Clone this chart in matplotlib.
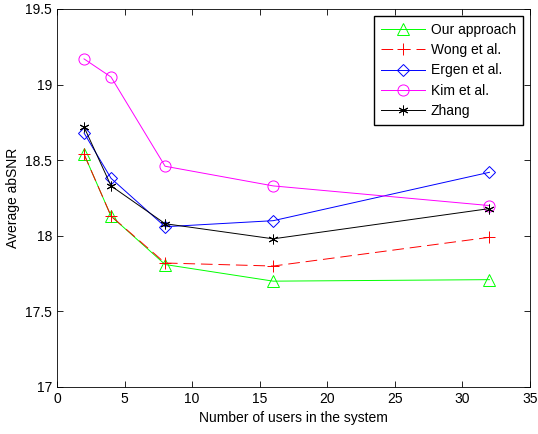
import numpy as np
import matplotlib.pyplot as plt
from matplotlib.ticker import FormatStrFormatter

plt.rcParams['font.family'] = ['Liberation Sans', 'DejaVu Sans']
plt.rcParams['font.size'] = 10

users = [2, 4, 8, 16, 32]
ours = [18.54, 18.13, 17.81, 17.70, 17.71]
wong = [18.54, 18.13, 17.82, 17.80, 17.99]
ergen = [18.68, 18.38, 18.06, 18.10, 18.42]
kim = [19.17, 19.05, 18.46, 18.33, 18.20]
zhang = [18.72, 18.33, 18.08, 17.98, 18.18]

fig = plt.figure(figsize=(5.38, 4.34), dpi=100)
ax = fig.add_axes([57/538, 1-387/434, 473/538, 378/434])

kw = dict(lw=0.7, mew=0.7)
ax.plot(users, ours, color='#00ff00', marker='^', ms=8, mfc='none', label='Our approach', **kw)
ax.plot(users, wong, color='red', marker='+', ms=9, dashes=(12, 6), label='Wong et al.', **kw)
ax.plot(users, ergen, color='blue', marker='D', ms=6, mfc='none', label='Ergen et al.', **kw)
ax.plot(users, kim, color='magenta', marker='o', ms=8, mfc='none', label='Kim et al.', **kw)
ax.plot(users, zhang, color='black', marker=(6, 2, 0), ms=7, label='Zhang', **kw)

ax.set_xlim(0, 35)
ax.set_ylim(17, 19.5)
ax.set_xticks(np.arange(0, 36, 5))
ax.set_yticks([17, 17.5, 18, 18.5, 19, 19.5])
ax.yaxis.set_major_formatter(FormatStrFormatter('%g'))
ax.tick_params(direction='in', top=True, right=True, length=4, width=0.6)
for s in ax.spines.values():
    s.set_linewidth(0.6)
ax.set_xlabel('Number of users in the system')
ax.set_ylabel('Average abSNR')
ax.legend(loc='upper right', fancybox=False, edgecolor='black', framealpha=1,
          borderaxespad=0.5, handlelength=3.2, handletextpad=0.4,
          borderpad=0.5, labelspacing=0.45)

fig.savefig('out.png')
